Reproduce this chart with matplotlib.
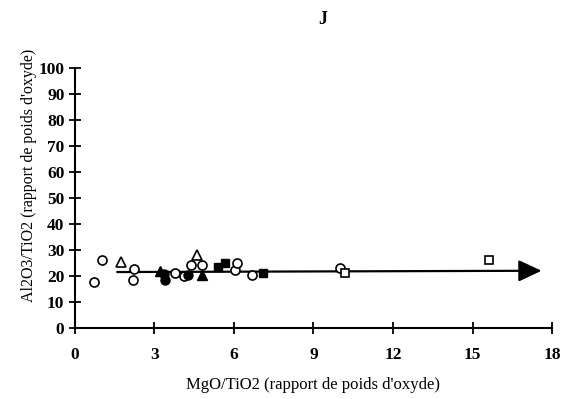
import matplotlib
matplotlib.use("Agg")
import matplotlib.pyplot as plt

# open circles
oc_x = [0.72, 1.02, 2.23, 2.19, 3.77, 4.1, 4.4, 4.8, 6.04, 6.1, 6.7, 10.0]
oc_y = [17.7, 26.2, 22.7, 18.5, 21.2, 20.0, 24.2, 24.2, 22.3, 25.0, 20.4, 23.0]
# filled circles
fc_x = [3.35, 3.4, 4.25]
fc_y = [20.8, 18.5, 20.4]
# open triangles
ot_x = [1.74, 4.6]
ot_y = [25.4, 28.0]
# filled triangles
ft_x = [3.2, 4.8]
ft_y = [22.0, 20.4]
# filled squares
fs_x = [5.4, 5.66, 7.1]
fs_y = [23.5, 25.0, 21.0]
# open squares
os_x = [10.2, 15.6]
os_y = [21.0, 26.0]

# trend arrow
arrow_start = (1.6, 21.5)
arrow_end = (17.6, 22.0)

plt.rcParams['font.family'] = ['Liberation Serif', 'DejaVu Serif']

fig = plt.figure(figsize=(5.71, 3.99), dpi=100)
ax = fig.add_axes([0.131, 0.178, 0.836, 0.652])

ax.annotate('', xy=arrow_end, xytext=arrow_start,
            arrowprops=dict(arrowstyle='-|>,head_length=0.64,head_width=0.3',
                            color='black', lw=1.6,
                            mutation_scale=22, shrinkA=0, shrinkB=0))

ms = 6.5
ax.plot(oc_x, oc_y, 'o', ms=ms, mfc='white', mec='black', mew=1.2, zorder=3)
ax.plot(fc_x, fc_y, 'o', ms=ms, mfc='black', mec='black', zorder=3)
ax.plot(ot_x, ot_y, '^', ms=ms + 1, mfc='white', mec='black', mew=1.2, zorder=3)
ax.plot(ft_x, ft_y, '^', ms=ms + 1, mfc='black', mec='black', zorder=3)
ax.plot(fs_x, fs_y, 's', ms=ms - 0.5, mfc='black', mec='black', zorder=3)
ax.plot(os_x, os_y, 's', ms=ms - 0.5, mfc='white', mec='black', mew=1.2, zorder=3)

ax.set_xlim(0, 18)
ax.set_ylim(0, 100)
ax.set_xticks(range(0, 19, 3))
ax.set_yticks(range(0, 101, 10))
ax.spines['top'].set_visible(False)
ax.spines['right'].set_visible(False)
ax.spines['left'].set_linewidth(1.5)
ax.spines['bottom'].set_linewidth(1.5)
ax.tick_params(direction='inout', length=8, width=1.3)
ax.tick_params(axis='x', pad=10)
for lab in ax.get_xticklabels() + ax.get_yticklabels():
    lab.set_fontweight('bold')
    lab.set_fontsize(12.5)

ax.set_xlabel('MgO/TiO2 (rapport de poids d\'oxyde)', fontsize=12, labelpad=10)
ax.set_ylabel('Al2O3/TiO2 (rapport de poids d\'oxyde)', fontsize=11.5)
ax.yaxis.set_label_coords(-0.08, 0.585)
fig.text(0.566, 0.952, 'J', ha='center', va='center', fontsize=13, fontweight='bold')

fig.savefig('out.png', dpi=100)
